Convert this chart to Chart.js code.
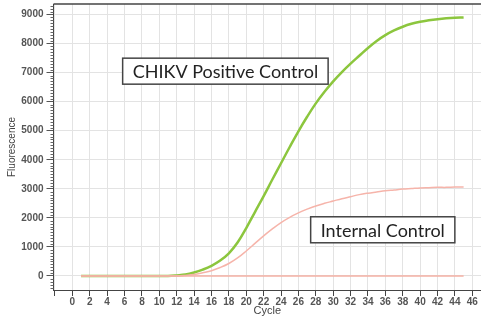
<!DOCTYPE html>
<html>
<head>
<meta charset="utf-8">
<title>CHIKV amplification</title>
<script src="https://cdn.jsdelivr.net/npm/chart.js@4"></script>
<style>
  html, body { margin: 0; padding: 0; background: #fff; }
  #wrap { width: 481px; height: 318px; position: relative; }
</style>
</head>
<body>
<div id="wrap"><canvas id="amp-chart"></canvas></div>
<script>
// cycles
var cycles = [1,2,3,4,5,6,7,8,9,10,11,12,13,14,15,16,17,18,19,20,21,22,23,24,25,26,27,28,29,30,31,32,33,34,35,36,37,38,39,40,41,42,43,44,45];

// fluorescence, CHIKV positive control (green)
var chikv = [0,0,0,0,0,0,0,0,0,0,0,20,50,120,220,350,530,780,1150,1650,2200,2750,3320,3880,4440,4980,5480,5940,6340,6700,7020,7310,7580,7850,8090,8290,8450,8580,8680,8750,8800,8840,8870,8890,8900];

// fluorescence, internal control (pink)
var internalCtl = [0,0,0,0,0,0,0,0,0,0,0,0,20,50,110,180,290,430,620,860,1120,1380,1620,1840,2020,2170,2300,2410,2500,2580,2660,2730,2800,2850,2890,2930,2960,2990,3010,3030,3040,3050,3050,3060,3060];

// flat negative trace
var negative = [0,0,0,0,0,0,0,0,0,0,0,0,0,0,0,0,0,0,0,0,0,0,0,0,0,0,0,0,0,0,0,0,0,0,0,0,0,0,0,0,0,0,0,0,0];

// tick labels
var xTicks = [-2,0,2,4,6,8,10,12,14,16,18,20,22,24,26,28,30,32,34,36,38,40,42,44,46];
var yTicks = [0,1000,2000,3000,4000,5000,6000,7000,8000,9000];

// text boxes on the plot: [text, centre cycle, centre fluorescence]
var boxLabels = [
	["CHIKV Positive Control", 17.6, 7050],
	["Internal Control", 35.7, 1590]
];

function pairs(ys) {
	var out = [];
	for (var i = 0; i < cycles.length; i++) {
		out.push({ x: cycles[i], y: ys[i] });
	}
	return out;
}

// top frame line, minor y ticks and the labelled boxes
var extras = {
	id: "extras",
	afterDraw: function(chart) {
		var ctx = chart.ctx;
		var area = chart.chartArea;
		var xs = chart.scales.x, ys = chart.scales.y;
		ctx.save();

		ctx.strokeStyle = "#444";
		ctx.lineWidth = 1.5;
		ctx.beginPath();
		ctx.moveTo(area.left, area.top);
		ctx.lineTo(area.right, area.top);
		ctx.stroke();

		ctx.lineWidth = 1;
		ctx.strokeStyle = "#666";
		for (var v = -400; v <= 9300; v += 100) {
			if (v % 1000 === 0) continue;
			var py = Math.round(ys.getPixelForValue(v)) + 0.5;
			ctx.beginPath();
			ctx.moveTo(area.left - 3, py);
			ctx.lineTo(area.left, py);
			ctx.stroke();
		}

		ctx.font = "18px Lato";
		ctx.textAlign = "center";
		ctx.textBaseline = "middle";
		boxLabels.forEach(function(b) {
			var cx = xs.getPixelForValue(b[1]);
			var cy = ys.getPixelForValue(b[2]);
			var w = ctx.measureText(b[0]).width + 20;
			var h = 26;
			ctx.fillStyle = "#fff";
			ctx.fillRect(cx - w / 2, cy - h / 2, w, h);
			ctx.strokeStyle = "#444";
			ctx.lineWidth = 1.5;
			ctx.strokeRect(cx - w / 2, cy - h / 2, w, h);
			ctx.fillStyle = "#222";
			ctx.fillText(b[0], cx, cy + 1);
		});
		ctx.restore();
	}
};

var ctx = document.getElementById("amp-chart");

var chart = new Chart(ctx, {
	type: "line",
	data: {
		datasets: [
			{
				label: "Negative",
				data: pairs(negative),
				borderColor: "#f4b0a4",
				borderWidth: 1.5,
				pointRadius: 0,
				fill: false
			},
			{
				label: "Internal Control",
				data: pairs(internalCtl),
				borderColor: "#f6b4aa",
				borderWidth: 1.5,
				pointRadius: 0,
				tension: 0.4,
				fill: false
			},
			{
				label: "CHIKV Positive Control",
				data: pairs(chikv),
				borderColor: "#8cc63e",
				borderWidth: 2.5,
				pointRadius: 0,
				tension: 0.4,
				fill: false
			}
		]
	},
	options: {
		responsive: true,
		maintainAspectRatio: false,
		animation: false,
		layout: { padding: { top: 4, right: 0, left: 0, bottom: 0 } },
		plugins: {
			legend: { display: false },
			tooltip: { enabled: false }
		},
		scales: {
			x: {
				type: "linear",
				min: -2.17,
				max: 47,
				afterBuildTicks: function(scale) {
					scale.ticks = xTicks.map(function(v) { return { value: v }; });
				},
				afterFit: function(scale) {
					scale.height = 28;
					scale.paddingLeft = 0;
					scale.paddingRight = 0;
				},
				grid: { color: "#e3e3e3", tickColor: "#444", tickLength: 6 },
				border: { color: "#444", width: 1 },
				ticks: {
					autoSkip: false,
					maxRotation: 0,
					padding: 0,
					color: "#555",
					font: { family: "Liberation Sans", size: 10, weight: "bold" },
					callback: function(v) { return v < 0 ? "" : String(v); }
				},
				title: {
					display: true,
					text: "Cycle",
					color: "#444",
					font: { family: "Liberation Sans", size: 11 },
					padding: { top: 0, bottom: 0 }
				}
			},
			y: {
				min: -483,
				max: 9362,
				afterBuildTicks: function(scale) {
					scale.ticks = yTicks.map(function(v) { return { value: v }; });
				},
				afterFit: function(scale) {
					scale.width = 53.5;
					scale.paddingTop = 0;
					scale.paddingBottom = 0;
				},
				grid: { color: "#e3e3e3", tickColor: "#555", tickLength: 7 },
				border: { color: "#444", width: 1 },
				ticks: {
					padding: 3,
					color: "#555",
					font: { family: "Liberation Sans", size: 10, weight: "bold" },
					callback: function(v) { return String(v); }
				},
				title: {
					display: true,
					text: "Fluorescence",
					color: "#444",
					font: { family: "Liberation Sans", size: 10 },
					padding: { top: 6, bottom: 0 }
				}
			}
		}
	},
	plugins: [extras]
});
</script>
</body>
</html>
